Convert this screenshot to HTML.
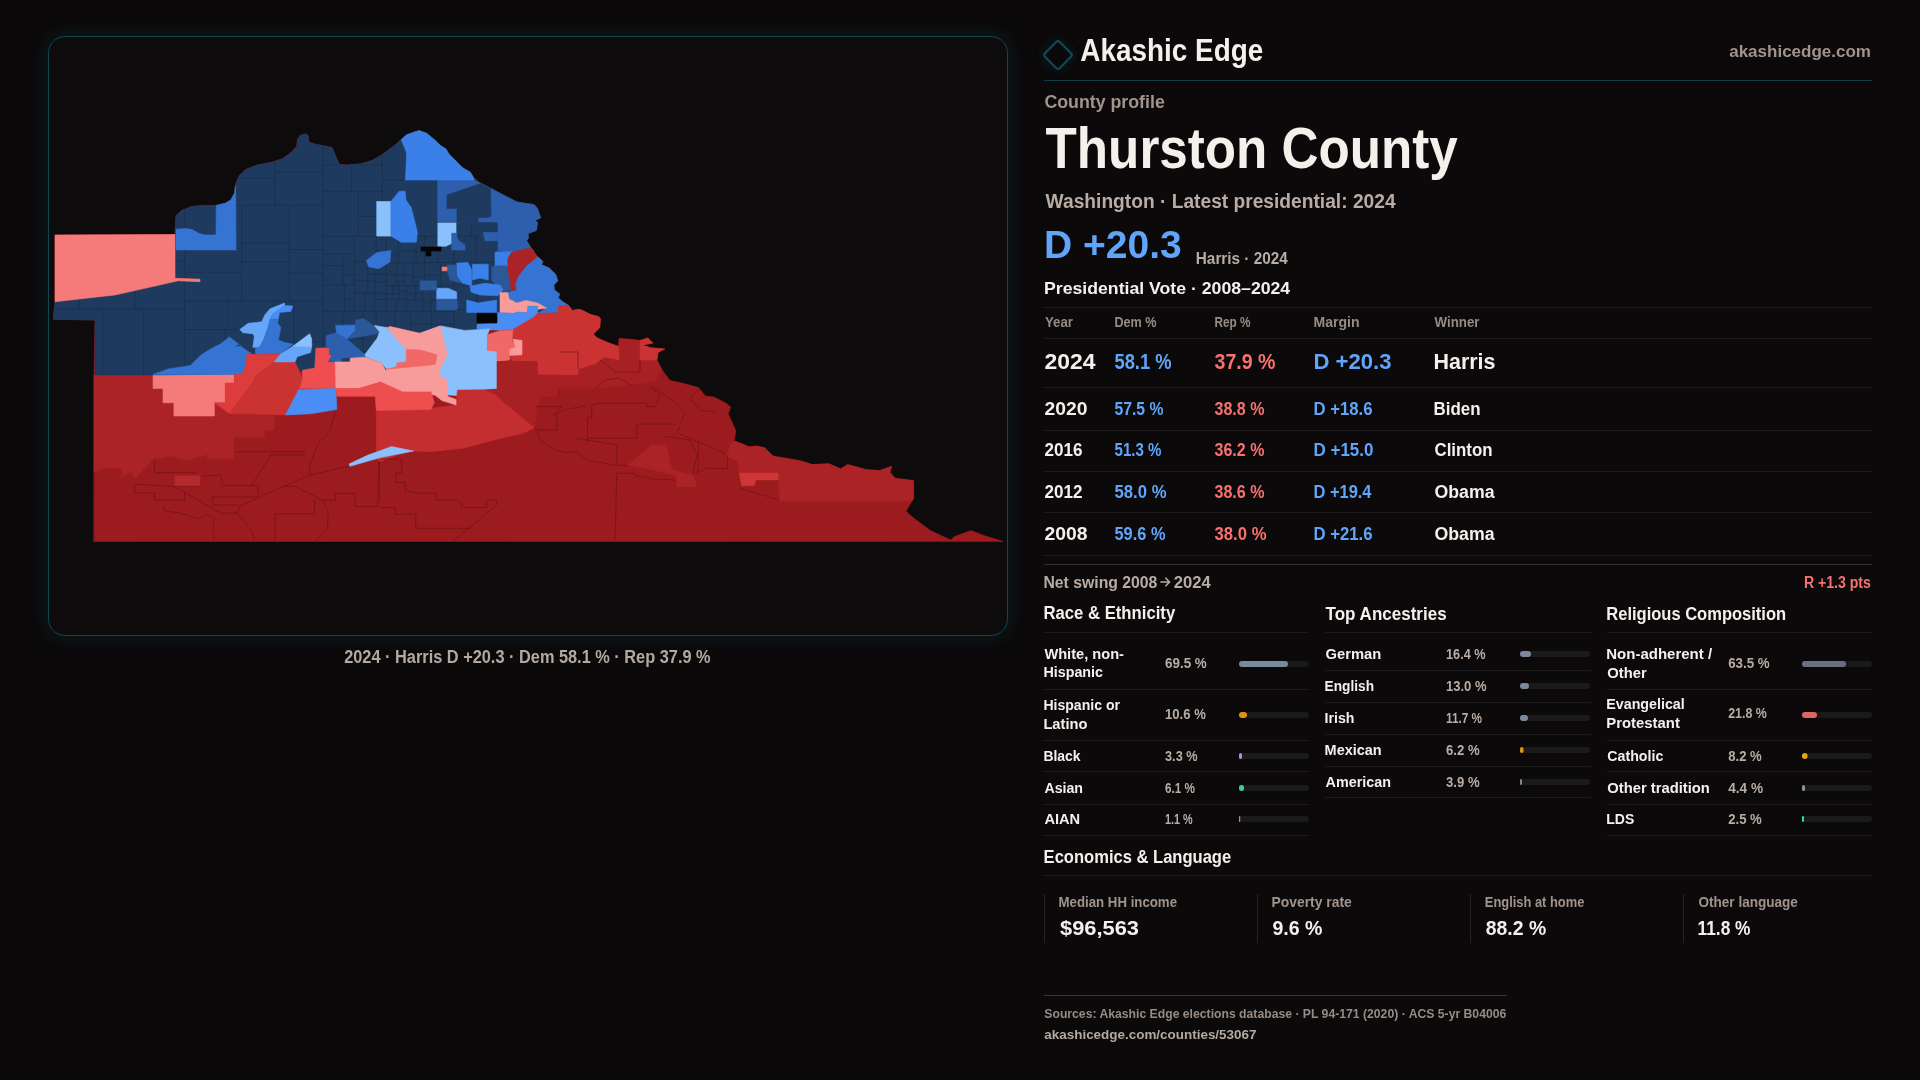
<!DOCTYPE html>
<html><head><meta charset="utf-8"><title>Thurston County — Akashic Edge</title>
<style>
html,body{margin:0;padding:0;background:#0b090a;}
body{width:1920px;height:1080px;overflow:hidden;position:relative;font-family:"Liberation Sans",sans-serif;}
.card{position:absolute;left:48px;top:36px;width:958px;height:598px;border:1px solid #0f4853;border-radius:17px;background:#0d0b0c;box-shadow:0 0 20px 1px rgba(16,80,92,0.28);}
svg{position:absolute;left:0;top:0;will-change:transform;}
</style></head><body>
<div class="card"></div>
<svg width="1920" height="1080" viewBox="0 0 1920 1080" font-family="'Liberation Sans', sans-serif">

<g stroke-linejoin="round">
<polygon fill="#9b1b1e" stroke="#9b1b1e" stroke-width="0.6" points="55.0,235.0 175.0,234.5 176.0,215.8 180.8,211.0 190.6,206.8 201.7,205.4 215.6,205.4 225.3,203.3 230.8,199.9 234.3,193.6 235.7,183.9 239.2,175.6 246.1,169.3 257.2,165.1 271.1,162.4 282.2,158.9 291.9,151.9 296.8,146.4 297.5,139.4 300.3,135.3 305.8,133.9 308.6,136.0 308.3,139.0 309.3,142.2 315.6,144.3 326.7,146.4 332.2,147.8 335.7,156.1 339.2,164.4 347.5,165.1 361.4,163.8 372.5,160.3 382.2,154.7 393.3,146.4 401.1,139.7 406.4,134.9 413.8,132.2 419.2,130.6 426.6,133.3 435.1,140.2 440.5,145.6 445.8,148.8 449.0,154.1 456.4,161.5 462.8,167.9 470.3,172.2 473.5,177.5 480.9,183.4 490.5,188.2 506.5,196.7 517.1,202.0 534.2,204.7 537.4,208.4 540.6,218.0 535.2,220.1 537.6,222.6 536.3,230.4 527.9,233.6 528.5,238.1 526.6,240.7 530.5,247.2 533.7,251.1 532.4,253.7 538.9,257.6 542.8,261.5 541.5,264.7 549.2,268.0 555.7,274.4 557.7,280.9 553.8,284.8 554.4,290.0 559.6,293.9 558.3,297.8 562.2,301.6 568.7,305.5 572.6,310.7 576.5,309.4 580.4,309.4 590.7,314.6 598.5,316.6 600.4,318.5 599.8,327.6 593.3,334.0 597.2,337.9 608.9,343.1 618.6,346.4 619.2,338.6 628.3,339.2 640.0,340.5 647.7,337.9 652.9,343.1 642.6,345.1 650.3,347.7 664.6,349.0 658.1,352.2 656.8,360.0 662.0,369.8 670.0,380.5 680.0,382.5 698.6,387.6 705.4,396.1 713.9,396.9 725.7,402.9 730.8,407.1 728.2,413.9 732.5,423.2 735.9,430.8 734.2,440.9 740.9,443.5 749.4,446.9 756.2,446.0 764.6,447.7 773.1,456.2 788.3,458.7 801.9,461.2 812.0,464.6 829.0,463.8 840.8,468.9 847.6,464.6 857.7,467.2 866.2,469.7 879.7,470.6 891.6,466.3 889.9,472.2 895.0,478.2 913.6,480.7 913.6,498.5 906.0,511.2 913.6,518.0 930.5,530.6 950.8,540.0 954.2,536.6 971.1,530.6 984.7,535.7 1003.3,541.6 93.7,541.5 94.0,375.0 95.0,320.0 53.3,319.2 55.0,301.7"/>
<polygon fill="#ab2327" stroke="#ab2327" stroke-width="0.6" points="94.0,375.0 153.0,375.0 153.0,388.6 163.0,388.6 163.0,402.8 173.9,402.8 173.9,416.0 214.4,416.0 214.4,402.8 229.7,413.8 247.0,413.8 283.9,414.5 274.2,412.9 274.2,429.9 264.5,430.7 264.5,437.2 233.8,437.2 233.8,458.2 206.7,458.3 210.0,452.5 206.7,455.0 186.7,460.0 170.0,455.8 153.3,459.2 135.0,478.3 131.7,471.7 120.0,478.3 123.3,473.3 120.0,467.5 103.3,468.3 94.2,472.5"/>
<polygon fill="#ab2327" stroke="#ab2327" stroke-width="0.6" points="734.2,440.9 740.9,443.5 749.4,446.9 756.2,446.0 764.6,447.7 773.1,456.2 788.3,458.7 801.9,461.2 812.0,464.6 829.0,463.8 840.8,468.9 847.6,464.6 857.7,467.2 866.2,469.7 879.7,470.6 891.6,466.3 889.9,472.2 895.0,478.2 913.6,480.7 913.6,498.5 911.9,501.0 779.9,501.0 778.2,473.1 739.2,473.1 737.5,461.2 727.4,456.2 730.0,445.0"/>
<polygon fill="#cf3636" stroke="#cf3636" stroke-width="0.6" points="739.2,473.1 778.2,473.1 778.2,479.9 756.2,479.9 754.0,485.8 741.8,485.8"/>
<polygon fill="#ab2327" stroke="#ab2327" stroke-width="0.6" points="680.0,474.8 691.8,474.8 696.0,486.6 680.0,486.6"/>
<polygon fill="#ab2327" stroke="#ab2327" stroke-width="0.6" points="651.7,445.0 666.7,445.0 671.7,470.0 693.3,475.0 696.7,486.7 676.7,486.7 676.7,475.8 653.3,470.0 628.3,465.0"/>
<polygon fill="#b42a2d" stroke="#b42a2d" stroke-width="0.6" points="174.8,475.9 199.9,475.9 199.9,486.4 174.8,486.4"/>
<polygon fill="#a62024" stroke="#a62024" stroke-width="0.6" points="537.0,361.5 577.8,374.8 578.5,368.9 604.0,357.0 618.6,346.4 619.2,338.6 628.3,339.2 640.0,340.5 640.0,360.0 656.8,360.0 662.0,369.8 655.0,381.0 640.0,384.0 620.0,386.0 596.0,388.4 558.4,388.4 558.4,375.2 537.8,375.0"/>
<polygon fill="#cb3333" stroke="#cb3333" stroke-width="0.6" points="640.0,340.5 647.7,337.9 652.9,343.1 642.6,345.1 650.3,347.7 664.6,349.0 658.1,352.2 656.8,360.0 640.0,360.0"/>
<polygon fill="#c42e31" stroke="#c42e31" stroke-width="0.6" points="376.3,409.8 405.8,410.0 405.8,403.3 426.7,403.3 426.7,410.0 436.7,407.5 456.7,405.0 456.7,389.2 486.7,390.0 496.7,395.0 503.3,401.7 511.7,408.3 521.7,416.7 535.0,427.5 523.3,433.3 496.7,439.2 463.3,448.3 430.0,451.7 413.5,451.0 396.7,455.0 380.0,461.7 376.3,458.0"/>
<polygon fill="#1e3a5e" stroke="#1e3a5e" stroke-width="0.6" points="55.0,301.7 115.0,295.0 178.3,280.8 200.0,281.7 200.0,279.2 175.0,278.3 175.0,234.5 176.0,215.8 180.8,211.0 190.6,206.8 201.7,205.4 215.6,205.4 225.3,203.3 230.8,199.9 234.3,193.6 235.7,183.9 239.2,175.6 246.1,169.3 257.2,165.1 271.1,162.4 282.2,158.9 291.9,151.9 296.8,146.4 297.5,139.4 300.3,135.3 305.8,133.9 308.6,136.0 308.3,139.0 309.3,142.2 315.6,144.3 326.7,146.4 332.2,147.8 335.7,156.1 339.2,164.4 347.5,165.1 361.4,163.8 372.5,160.3 382.2,154.7 393.3,146.4 401.1,139.7 406.4,134.9 413.8,132.2 419.2,130.6 426.6,133.3 435.1,140.2 440.5,145.6 445.8,148.8 449.0,154.1 456.4,161.5 462.8,167.9 470.3,172.2 473.5,177.5 480.9,183.4 490.5,188.2 506.5,196.7 517.1,202.0 534.2,204.7 537.4,208.4 540.6,218.0 535.2,220.1 537.6,222.6 536.3,230.4 527.9,233.6 528.5,238.1 526.6,240.7 530.5,247.2 533.7,251.1 532.4,253.7 538.9,257.6 542.8,261.5 541.5,264.7 549.2,268.0 555.7,274.4 557.7,280.9 553.8,284.8 554.4,290.0 559.6,293.9 558.3,297.8 562.2,301.6 568.7,305.5 558.0,306.7 538.0,312.0 497.0,313.0 477.0,313.0 477.0,329.0 464.0,330.0 440.7,325.9 420.0,340.0 386.7,340.0 386.7,372.0 245.0,372.0 245.0,374.4 153.0,375.0 95.0,375.0 95.0,320.0 53.3,319.2"/>
<path d="M323.3,146.6 L323.3,164.9 M323.3,164.9 L323.3,172.2 M323.3,172.2 L323.3,191.4 M323.3,191.4 L323.3,205.4 M323.3,205.4 L323.3,236.4 M323.3,236.4 L323.3,249.5 M323.3,249.5 L323.3,253.9 M323.3,253.9 L323.3,265.6 M323.3,265.6 L323.3,273.0 M323.3,273.0 L323.3,284.9 M323.3,284.9 L323.3,301.2 M323.3,301.2 L323.3,311.3 M323.3,311.3 L323.3,338.5 M323.3,338.5 L323.3,341.9 M323.3,341.9 L323.3,371.2 M184.6,210.2 L184.6,261.3 M184.6,261.3 L184.6,272.3 M184.6,272.3 L184.6,277.8 M184.6,281.9 L184.6,301.2 M184.6,301.2 L184.6,309.2 M184.6,309.2 L184.6,329.5 M184.6,329.5 L184.6,374.0 M175.8,261.3 L184.6,261.3 M55.1,309.2 L79.2,309.2 M79.2,309.2 L102.5,309.2 M102.5,309.2 L135.2,309.2 M135.2,309.2 L143.4,309.2 M143.4,309.2 L184.6,309.2 M135.2,291.3 L135.2,309.2 M79.2,299.8 L79.2,309.2 M143.4,309.2 L143.4,374.2 M102.5,309.2 L102.5,374.2 M219.4,205.4 L229.5,205.4 M229.5,205.4 L241.7,205.4 M241.7,205.4 L275.1,205.4 M275.1,205.4 L289.3,205.4 M289.3,205.4 L323.3,205.4 M229.5,201.6 L229.5,205.4 M275.1,162.0 L275.1,172.2 M275.1,172.2 L275.1,178.2 M275.1,178.2 L275.1,205.4 M239.0,178.2 L275.1,178.2 M275.1,172.2 L323.3,172.2 M184.6,301.2 L227.9,301.2 M227.9,301.2 L241.7,301.2 M241.7,301.2 L273.2,301.2 M273.2,301.2 L289.3,301.2 M289.3,301.2 L293.7,301.2 M293.7,301.2 L323.3,301.2 M241.7,205.4 L241.7,242.9 M241.7,242.9 L241.7,262.1 M241.7,262.1 L241.7,272.3 M241.7,272.3 L241.7,301.2 M184.6,272.3 L241.7,272.3 M289.3,205.4 L289.3,242.9 M289.3,242.9 L289.3,249.5 M289.3,249.5 L289.3,262.1 M289.3,262.1 L289.3,273.0 M289.3,273.0 L289.3,301.2 M241.7,242.9 L289.3,242.9 M241.7,262.1 L289.3,262.1 M289.3,249.5 L323.3,249.5 M289.3,273.0 L323.3,273.0 M273.2,301.2 L273.2,329.5 M273.2,329.5 L273.2,341.9 M273.2,341.9 L273.2,371.2 M184.6,329.5 L225.3,329.5 M225.3,329.5 L227.9,329.5 M227.9,329.5 L273.2,329.5 M227.9,301.2 L227.9,329.5 M225.3,329.5 L225.3,373.7 M273.2,341.9 L293.7,341.9 M293.7,341.9 L323.3,341.9 M293.7,301.2 L293.7,341.9 M323.3,236.4 L354.4,236.4 M354.4,236.4 L358.3,236.4 M358.3,236.4 L376.2,236.4 M376.2,236.4 L382.3,236.4 M382.3,236.4 L386.3,236.4 M386.3,236.4 L398.3,236.4 M398.3,236.4 L413.1,236.4 M413.1,236.4 L416.2,236.4 M416.2,236.4 L424.5,236.4 M424.5,236.4 L437.6,236.4 M437.9,236.4 L454.1,236.4 M454.1,236.4 L471.3,236.4 M471.3,236.4 L476.0,236.4 M476.0,236.4 L495.3,236.4 M495.3,236.4 L513.4,236.4 M513.4,236.4 L524.8,236.4 M524.8,236.4 L527.5,236.4 M471.3,175.5 L471.3,180.2 M471.3,180.2 L471.3,194.1 M471.3,194.1 L471.3,219.3 M471.3,219.3 L471.3,236.4 M382.3,155.6 L382.3,164.9 M382.3,164.9 L382.3,180.2 M382.3,180.2 L382.3,191.4 M382.3,191.4 L382.3,216.5 M382.3,217.0 L382.3,236.4 M323.3,164.9 L338.6,164.9 M358.0,164.9 L382.3,164.9 M323.3,191.4 L351.6,191.4 M351.6,191.4 L358.3,191.4 M358.3,191.4 L382.3,191.4 M351.6,165.5 L351.6,191.4 M358.3,191.4 L358.3,216.5 M358.3,216.5 L358.3,236.4 M358.3,216.5 L382.3,216.5 M382.3,180.2 L407.6,180.2 M407.6,180.2 L418.6,180.2 M418.6,180.2 L437.6,180.2 M437.6,180.2 L471.3,180.2 M418.6,131.6 L418.6,180.2 M437.6,180.2 L437.6,217.0 M437.6,217.0 L437.6,219.3 M437.6,219.3 L437.6,236.4 M382.3,217.0 L407.6,217.0 M407.6,217.0 L413.1,217.0 M413.1,217.0 L437.6,217.0 M407.6,180.2 L407.6,217.0 M413.1,217.0 L413.1,236.4 M437.6,219.3 L471.3,219.3 M513.4,201.0 L513.4,236.4 M471.3,194.1 L499.9,194.1 M454.1,236.4 L454.1,262.4 M454.1,262.4 L454.1,285.0 M454.1,285.0 L454.1,285.6 M454.1,285.6 L454.1,300.2 M454.1,300.2 L454.1,309.6 M454.1,309.6 L454.1,311.3 M454.1,311.3 L454.1,324.1 M454.1,324.1 L454.1,327.5 M323.3,311.3 L343.0,311.3 M343.0,311.3 L344.5,311.3 M344.5,311.3 L354.4,311.3 M354.4,311.3 L362.8,311.3 M362.8,311.3 L364.7,311.3 M364.7,311.3 L374.4,311.3 M374.4,311.3 L376.1,311.3 M376.1,311.3 L386.3,311.3 M386.3,311.3 L395.2,311.3 M395.2,311.3 L396.3,311.3 M396.3,311.3 L406.4,311.3 M406.4,311.3 L410.4,311.3 M410.4,311.3 L422.5,311.3 M422.5,311.3 L430.5,311.3 M430.5,311.3 L431.4,311.3 M431.4,311.3 L454.1,311.3 M386.3,236.4 L386.3,251.3 M386.3,251.3 L386.3,253.9 M386.3,253.9 L386.3,262.0 M386.3,262.0 L386.3,262.7 M386.3,262.7 L386.3,274.2 M386.3,274.6 L386.3,281.9 M386.3,281.9 L386.3,285.6 M386.3,285.6 L386.3,293.1 M386.3,293.1 L386.3,293.8 M386.3,293.8 L386.3,299.3 M386.3,299.5 L386.3,311.3 M354.4,236.4 L354.4,253.9 M354.4,253.9 L354.4,262.0 M354.4,262.0 L354.4,274.9 M354.4,274.9 L354.4,280.3 M354.4,280.3 L354.4,284.9 M354.4,284.9 L354.4,293.1 M354.4,293.1 L354.4,299.2 M354.4,299.2 L354.4,311.3 M323.3,284.9 L342.8,284.9 M342.8,284.9 L344.5,284.9 M344.5,284.9 L354.4,284.9 M323.3,253.9 L342.8,253.9 M342.8,253.9 L354.4,253.9 M342.8,253.9 L342.8,265.6 M342.8,265.6 L342.8,274.9 M342.8,274.9 L342.8,284.9 M323.3,265.6 L342.8,265.6 M342.8,274.9 L354.4,274.9 M344.5,284.9 L344.5,299.2 M344.5,299.2 L344.5,311.3 M344.5,299.2 L354.4,299.2 M354.4,262.0 L367.7,262.0 M367.7,262.0 L376.2,262.0 M376.2,262.0 L379.6,262.0 M379.6,262.0 L386.3,262.0 M376.2,236.4 L376.2,251.3 M376.2,251.3 L376.2,262.0 M376.2,251.3 L386.3,251.3 M354.4,293.1 L364.7,293.1 M364.7,293.1 L367.7,293.1 M367.7,293.1 L374.4,293.1 M374.4,293.1 L375.4,293.1 M375.4,293.1 L386.3,293.1 M367.7,262.0 L367.7,274.2 M367.7,274.2 L367.7,280.3 M367.7,280.3 L367.7,281.4 M367.7,281.4 L367.7,293.1 M354.4,280.3 L367.7,280.3 M367.7,274.2 L375.4,274.2 M375.4,274.2 L379.6,274.2 M379.6,274.2 L386.3,274.2 M379.6,262.0 L379.6,274.2 M375.4,274.2 L375.4,281.4 M375.4,281.9 L375.4,293.1 M367.7,281.4 L375.4,281.4 M375.4,281.9 L386.3,281.9 M364.7,293.1 L364.7,311.3 M374.4,293.1 L374.4,299.5 M374.4,299.5 L374.4,311.3 M374.4,299.5 L386.3,299.5 M386.3,285.6 L393.2,285.6 M393.2,285.6 L396.5,285.6 M396.5,285.6 L399.1,285.6 M399.1,285.6 L404.1,285.6 M404.1,285.6 L406.4,285.6 M406.4,285.6 L413.0,285.6 M413.0,285.6 L415.6,285.6 M415.6,285.6 L422.5,285.6 M422.5,285.6 L424.5,285.6 M424.5,285.6 L430.5,285.6 M430.5,285.6 L440.6,285.6 M440.6,285.6 L441.7,285.6 M441.7,285.6 L454.1,285.6 M424.5,236.4 L424.5,252.0 M424.5,252.0 L424.5,262.4 M424.5,262.7 L424.5,275.3 M424.5,275.3 L424.5,276.8 M424.5,276.8 L424.5,285.6 M386.3,262.7 L396.5,262.7 M396.5,262.7 L398.3,262.7 M398.3,262.7 L403.9,262.7 M403.9,262.7 L413.0,262.7 M413.0,262.7 L416.2,262.7 M416.2,262.7 L424.5,262.7 M398.3,236.4 L398.3,251.0 M398.3,251.0 L398.3,253.9 M398.3,253.9 L398.3,262.7 M386.3,253.9 L398.3,253.9 M416.2,236.4 L416.2,251.0 M416.2,251.0 L416.2,252.0 M416.2,252.0 L416.2,262.7 M398.3,251.0 L416.2,251.0 M416.2,252.0 L424.5,252.0 M413.0,262.7 L413.0,274.6 M413.0,274.6 L413.0,276.8 M413.0,276.8 L413.0,285.6 M386.3,274.6 L396.5,274.6 M396.5,274.6 L403.9,274.6 M404.1,274.6 L413.0,274.6 M403.9,262.7 L403.9,274.6 M396.5,262.7 L396.5,274.6 M404.1,274.6 L404.1,281.7 M404.1,281.7 L404.1,285.6 M396.5,274.6 L396.5,281.7 M396.5,281.7 L396.5,285.6 M396.5,281.7 L404.1,281.7 M413.0,276.8 L424.5,276.8 M424.5,262.4 L437.9,262.4 M437.9,262.4 L440.6,262.4 M440.6,262.4 L454.1,262.4 M437.9,236.4 L437.9,262.4 M440.6,262.4 L440.6,275.3 M440.6,275.3 L440.6,285.6 M424.5,275.3 L440.6,275.3 M430.5,285.6 L430.5,300.2 M430.5,300.2 L430.5,302.5 M430.5,302.5 L430.5,311.3 M406.4,285.6 L406.4,291.0 M406.4,291.0 L406.4,293.4 M406.4,293.4 L406.4,299.3 M406.4,299.3 L406.4,300.0 M406.4,300.0 L406.4,311.3 M386.3,299.3 L396.3,299.3 M396.3,299.3 L399.1,299.3 M399.1,299.3 L406.4,299.3 M399.1,285.6 L399.1,291.0 M399.1,291.0 L399.1,293.8 M399.1,293.8 L399.1,299.3 M386.3,293.8 L393.2,293.8 M393.2,293.8 L399.1,293.8 M393.2,285.6 L393.2,293.8 M399.1,291.0 L406.4,291.0 M396.3,299.3 L396.3,311.3 M422.5,285.6 L422.5,293.4 M422.5,293.4 L422.5,300.0 M422.5,300.0 L422.5,302.5 M422.5,302.5 L422.5,311.3 M406.4,293.4 L415.5,293.4 M415.6,293.4 L422.5,293.4 M415.6,285.6 L415.6,293.4 M406.4,300.0 L415.5,300.0 M415.5,300.0 L422.5,300.0 M415.5,293.4 L415.5,300.0 M422.5,302.5 L430.5,302.5 M430.5,300.2 L441.7,300.2 M441.7,300.2 L454.1,300.2 M441.7,285.6 L441.7,300.2 M410.4,311.3 L410.4,324.0 M410.4,324.0 L410.4,330.3 M410.4,330.3 L410.4,339.2 M362.8,311.3 L362.8,326.3 M362.8,326.3 L362.8,338.5 M362.8,338.5 L362.8,352.0 M362.8,352.0 L362.8,371.2 M323.3,338.5 L343.0,338.5 M343.0,338.5 L362.8,338.5 M343.0,311.3 L343.0,338.5 M362.8,352.0 L385.9,352.0 M395.2,311.3 L395.2,326.3 M395.2,326.3 L395.2,330.3 M395.2,330.3 L395.2,339.2 M362.8,326.3 L376.1,326.3 M376.1,326.3 L395.2,326.3 M376.1,311.3 L376.1,326.3 M395.2,330.3 L410.4,330.3 M431.4,311.3 L431.4,324.0 M431.4,324.1 L431.4,331.2 M410.4,324.0 L431.4,324.0 M431.4,324.1 L454.1,324.1 M454.1,309.6 L476.7,309.6 M476.7,309.6 L478.7,309.6 M478.7,309.6 L503.7,309.6 M503.7,309.6 L510.1,309.6 M510.1,309.6 L524.8,309.6 M524.8,309.6 L543.8,309.6 M524.8,236.4 L524.8,262.4 M524.8,262.4 L524.8,263.6 M524.8,263.6 L524.8,280.3 M524.8,280.3 L524.8,309.6 M454.1,262.4 L476.0,262.4 M476.0,262.4 L476.7,262.4 M476.7,262.4 L495.3,262.4 M495.3,262.4 L503.7,262.4 M503.7,262.4 L524.8,262.4 M476.0,236.4 L476.0,262.4 M495.3,236.4 L495.3,262.4 M476.7,262.4 L476.7,285.0 M476.7,285.0 L476.7,294.7 M476.7,294.7 L476.7,309.6 M454.1,285.0 L476.7,285.0 M503.7,262.4 L503.7,280.3 M503.7,280.3 L503.7,294.7 M503.7,294.7 L503.7,309.6 M476.7,294.7 L503.7,294.7 M503.7,280.3 L524.8,280.3 M524.8,263.6 L541.1,263.6 M510.1,309.6 L510.1,311.9 M478.7,309.6 L478.7,312.2" fill="none" stroke="#162c48" stroke-width="0.7" opacity="0.9"/>
<polygon fill="#f47b7a" stroke="#f47b7a" stroke-width="0.6" points="55.0,235.0 175.0,234.5 175.0,278.3 200.0,279.2 200.0,281.7 178.3,280.8 115.0,295.0 55.0,301.7"/>
<polygon fill="#3674d4" stroke="#3674d4" stroke-width="0.6" points="216.2,205.4 225.3,203.3 230.8,199.9 234.3,193.6 235.7,186.0 236.0,250.0 176.0,250.0 176.0,229.2 186.0,228.6 192.0,229.6 199.0,233.5 205.0,235.0 216.0,235.0"/>
<polygon fill="#3b80e8" stroke="#3b80e8" stroke-width="0.6" points="401.1,139.7 406.4,134.9 413.8,132.2 419.2,130.6 426.6,133.3 435.1,140.2 440.5,145.6 445.8,148.8 449.0,154.1 456.4,161.5 462.8,167.9 470.3,172.2 473.5,177.5 474.5,180.7 405.3,180.7 406.4,160.0 406.4,152.0"/>
<polygon fill="#2d5fae" stroke="#2d5fae" stroke-width="0.6" points="437.0,180.7 474.5,180.7 480.9,183.4 490.5,188.2 506.5,196.7 517.1,202.0 534.2,204.7 537.4,208.4 540.6,218.0 535.2,220.1 537.6,222.6 536.3,230.4 527.9,233.6 528.5,238.1 526.6,240.7 530.5,247.2 533.7,251.1 515.2,252.4 496.9,250.4 496.9,222.0 437.0,222.0"/>
<polygon fill="#1e3a5e" stroke="#1e3a5e" stroke-width="0.6" points="447.0,195.0 481.0,183.4 490.5,188.2 491.0,216.0 488.0,217.6 478.0,217.6 478.0,222.6 457.0,222.0 457.0,208.6 447.0,208.6"/>
<polygon fill="#1e3a5e" stroke="#1e3a5e" stroke-width="0.6" points="405.3,180.7 437.0,180.7 437.0,222.0 413.8,222.0 412.8,209.5 406.4,203.0"/>
<polygon fill="#1e3a5e" stroke="#1e3a5e" stroke-width="0.6" points="478.3,223.3 497.5,223.3 497.5,250.0 478.3,250.0"/>
<polygon fill="#2d5fae" stroke="#2d5fae" stroke-width="0.6" points="483.3,232.5 497.5,232.5 497.5,240.8 485.0,240.8"/>
<polygon fill="#8ac0fb" stroke="#8ac0fb" stroke-width="0.6" points="376.7,201.5 390.9,201.5 390.9,236.1 376.7,236.1"/>
<polygon fill="#3b80e8" stroke="#3b80e8" stroke-width="0.6" points="390.9,201.5 399.1,191.3 405.2,191.3 406.0,200.0 411.3,207.6 417.4,232.0 416.4,242.2 401.1,242.2 390.9,236.1"/>
<polygon fill="#8ac0fb" stroke="#8ac0fb" stroke-width="0.6" points="437.8,222.9 456.1,222.9 456.0,238.0 454.1,242.2 445.9,246.3 437.8,246.3"/>
<polygon fill="#3674d4" stroke="#3674d4" stroke-width="0.6" points="366.5,260.6 376.7,252.4 390.9,250.4 390.0,262.0 378.7,268.7 368.5,266.7"/>
<polygon fill="#050505" stroke="#050505" stroke-width="0.6" points="421.0,247.0 441.0,247.0 441.0,251.0 431.0,251.0 431.0,256.0 426.0,256.0 426.0,251.0 421.0,251.0"/>
<polygon fill="#2d5fae" stroke="#2d5fae" stroke-width="0.6" points="451.7,233.3 456.0,233.3 458.0,240.0 465.0,245.0 465.0,250.0 451.7,250.0"/>
<polygon fill="#3b80e8" stroke="#3b80e8" stroke-width="0.6" points="495.0,252.0 505.0,251.7 511.7,251.7 508.0,258.0 510.0,268.3 495.0,268.3"/>
<polygon fill="#2a5898" stroke="#2a5898" stroke-width="0.6" points="491.7,267.0 497.0,265.8 507.0,266.0 511.7,275.0 510.4,279.6 511.0,290.6 505.0,291.7 498.0,288.0 491.7,280.0"/>
<polygon fill="#3b80e8" stroke="#3b80e8" stroke-width="0.6" points="470.0,286.0 485.0,283.3 500.0,285.0 503.3,290.0 498.0,295.8 480.0,295.0 471.0,292.0"/>
<polygon fill="#3b80e8" stroke="#3b80e8" stroke-width="0.6" points="456.7,263.0 468.0,262.5 471.7,270.0 471.7,285.8 462.0,283.0 456.7,276.0"/>
<polygon fill="#3b80e8" stroke="#3b80e8" stroke-width="0.6" points="472.5,264.2 488.3,264.2 488.3,280.0 480.0,278.0 472.5,280.0"/>
<polygon fill="#2a5898" stroke="#2a5898" stroke-width="0.6" points="447.5,265.0 456.0,265.0 456.7,276.0 462.0,283.0 450.0,280.0 447.5,272.0"/>
<polygon fill="#66a6f8" stroke="#66a6f8" stroke-width="0.6" points="436.7,288.3 448.0,288.3 456.7,292.0 456.7,299.2 436.7,299.2"/>
<polygon fill="#2a5898" stroke="#2a5898" stroke-width="0.6" points="436.7,299.2 456.7,299.2 458.0,306.0 456.7,310.0 436.7,310.0"/>
<polygon fill="#3b80e8" stroke="#3b80e8" stroke-width="0.6" points="466.7,300.0 478.0,303.0 496.7,300.0 496.7,312.5 466.7,312.5"/>
<polygon fill="#2a5898" stroke="#2a5898" stroke-width="0.6" points="420.0,280.8 436.7,280.8 436.7,290.0 420.0,290.0"/>
<polygon fill="#f47b7a" stroke="#f47b7a" stroke-width="0.6" points="442.0,267.0 447.0,267.0 447.0,270.8 442.0,270.8"/>
<polygon fill="#ab2327" stroke="#ab2327" stroke-width="0.6" points="507.8,258.9 511.7,252.4 529.8,247.9 533.7,251.1 537.6,256.9 525.9,266.7 518.1,277.0 515.6,284.8 516.8,290.0 511.0,290.6 510.4,279.6 507.8,271.8"/>
<polygon fill="#3674d4" stroke="#3674d4" stroke-width="0.6" points="537.6,256.9 538.9,257.6 542.8,261.5 541.5,264.7 549.2,268.0 555.7,274.4 557.7,280.9 553.8,284.8 554.4,290.0 559.6,293.9 558.3,297.8 562.2,301.6 568.7,305.5 558.3,305.5 558.3,312.7 537.6,313.3 546.7,308.1 537.6,303.0 525.9,300.4 516.8,303.0 509.1,299.1 507.8,292.6 516.8,290.0 515.6,284.8 518.1,277.0 525.9,266.7"/>
<polygon fill="#f89b9b" stroke="#f89b9b" stroke-width="0.6" points="500.0,292.6 507.8,292.6 509.1,299.1 516.8,303.0 525.9,300.4 537.6,303.0 546.7,308.1 537.6,309.4 537.6,306.2 527.9,306.2 527.2,312.7 516.8,312.0 514.3,313.3 500.0,312.7"/>
<polygon fill="#4a8ef5" stroke="#4a8ef5" stroke-width="0.6" points="497.0,312.7 514.3,313.3 516.8,312.0 527.2,312.7 527.9,306.2 537.6,306.2 537.6,313.3 533.7,317.2 525.9,323.7 513.0,329.5 500.0,330.2 477.0,328.9 477.0,324.4 497.0,323.0"/>
<polygon fill="#050505" stroke="#050505" stroke-width="0.6" points="477.0,313.3 497.0,313.3 497.0,323.0 477.0,323.0"/>
<polygon fill="#cb3333" stroke="#cb3333" stroke-width="0.6" points="513.0,329.5 533.7,317.2 537.6,313.3 558.3,312.7 558.3,306.2 568.7,305.5 572.6,310.7 576.5,309.4 580.4,309.4 590.7,314.6 598.5,316.6 600.4,318.5 599.8,327.6 593.3,334.0 597.2,337.9 608.9,343.1 618.6,346.4 619.2,360.0 604.0,357.0 595.0,364.0 587.4,365.9 578.5,368.9 577.8,374.8 537.8,374.8 537.0,361.5 511.9,360.7 509.6,352.6 514.0,341.0"/>
<polygon fill="#8ac0fb" stroke="#8ac0fb" stroke-width="0.6" points="420.0,333.3 440.7,325.9 464.4,330.4 489.6,328.9 487.4,334.8 487.4,350.4 497.0,351.1 497.0,388.9 457.0,389.6 456.3,395.6 446.7,394.8 446.7,380.0 442.2,377.8 437.0,375.6 437.0,354.8 447.4,354.1 434.8,340.7"/>
<polygon fill="#f06868" stroke="#f06868" stroke-width="0.6" points="487.4,334.8 500.0,330.8 513.0,330.2 512.3,340.5 515.6,347.0 509.7,349.6 509.7,360.0 497.0,361.5 497.0,351.1 487.4,350.4"/>
<polygon fill="#f89b9b" stroke="#f89b9b" stroke-width="0.6" points="513.0,339.2 522.0,340.5 522.0,354.8 509.7,355.4 509.7,349.6 515.6,347.0"/>
<polygon fill="#f47b7a" stroke="#f47b7a" stroke-width="0.6" points="153.0,375.5 234.0,374.4 234.0,383.1 225.3,383.1 225.3,402.8 214.4,402.8 214.4,416.0 173.9,416.0 173.9,402.8 163.0,402.8 163.0,388.6 153.1,388.6"/>
<polygon fill="#3674d4" stroke="#3674d4" stroke-width="0.6" points="153.0,374.4 168.4,368.9 190.3,365.6 201.3,354.7 212.2,348.1 220.0,344.2 229.4,336.9 234.6,341.0 238.8,344.2 233.5,346.8 240.8,346.2 248.1,351.5 251.2,353.0 247.1,353.5 246.0,362.9 242.9,373.3 234.6,374.4"/>
<polygon fill="#66a6f8" stroke="#66a6f8" stroke-width="0.6" points="239.8,329.6 248.1,323.3 261.7,321.8 264.8,315.0 270.0,308.8 278.3,305.6 284.6,303.0 284.6,305.6 272.1,314.5 270.0,319.2 267.9,327.5 263.8,339.0 259.6,347.3 252.8,347.3 254.4,335.8 252.3,333.8 242.9,332.7"/>
<polygon fill="#4a8ef5" stroke="#4a8ef5" stroke-width="0.6" points="284.6,305.6 292.9,306.1 290.8,311.4 279.4,312.4 278.3,319.2 270.0,319.2 272.1,314.5"/>
<polygon fill="#3674d4" stroke="#3674d4" stroke-width="0.6" points="270.0,319.2 278.3,319.2 277.8,323.3 280.9,327.5 278.3,340.0 283.5,342.1 292.9,344.2 280.4,353.5 255.4,354.6 255.4,348.3 259.6,347.3 263.8,339.0 267.9,327.5"/>
<polygon fill="#dc3c3c" stroke="#dc3c3c" stroke-width="0.6" points="247.1,353.5 254.9,354.6 280.4,354.1 274.2,361.9 255.4,376.5 253.8,381.0 229.7,413.8 214.4,402.8 225.3,402.8 225.3,383.1 234.0,383.1 234.6,374.4 242.9,373.3 246.0,362.9"/>
<polygon fill="#cb3333" stroke="#cb3333" stroke-width="0.6" points="274.2,361.9 295.0,361.9 300.2,373.3 302.3,380.0 299.7,388.6 298.6,389.7 285.5,414.9 247.0,413.8 229.7,413.8 253.8,381.0 255.4,376.5"/>
<polygon fill="#66a6f8" stroke="#66a6f8" stroke-width="0.6" points="280.4,354.1 292.9,346.2 311.7,346.8 310.6,352.5 297.1,356.7 295.0,361.9 274.2,361.9"/>
<polygon fill="#8ac0fb" stroke="#8ac0fb" stroke-width="0.6" points="292.9,346.2 309.6,333.8 311.7,339.0 311.7,346.8"/>
<polygon fill="#ee4e4e" stroke="#ee4e4e" stroke-width="0.6" points="302.3,380.0 302.3,370.2 314.8,368.1 315.8,348.3 329.4,347.8 329.4,354.6 332.5,355.6 328.3,360.8 335.1,361.9 335.1,380.0 335.8,388.6 299.7,388.6"/>
<polygon fill="#4a8ef5" stroke="#4a8ef5" stroke-width="0.6" points="298.6,389.7 335.8,388.6 336.9,409.4 310.6,413.8 285.5,414.9"/>
<polygon fill="#2d5fae" stroke="#2d5fae" stroke-width="0.6" points="326.2,335.8 336.7,332.7 347.1,339.0 364.8,354.6 365.3,361.9 350.2,361.9 350.2,357.7 341.4,358.2 341.4,361.9 328.3,361.9 332.5,355.6 329.4,354.6 329.4,347.8 326.2,347.8"/>
<polygon fill="#3674d4" stroke="#3674d4" stroke-width="0.6" points="335.6,325.4 355.4,324.9 355.4,330.6 347.1,339.0 336.7,332.7"/>
<polygon fill="#2a5898" stroke="#2a5898" stroke-width="0.6" points="355.4,320.2 362.7,318.6 367.9,321.2 374.2,326.5 379.4,331.7 376.2,333.8 365.8,335.8 347.1,339.0 355.4,330.6"/>
<polygon fill="#f89b9b" stroke="#f89b9b" stroke-width="0.6" points="389.4,326.3 420.0,333.3 440.0,326.0 447.4,354.1 437.0,375.6 441.9,377.7 447.4,379.9 447.4,396.3 402.5,391.9 380.6,382.0 386.7,372.0"/>
<polygon fill="#a62024" stroke="#a62024" stroke-width="0.6" points="497.0,361.5 537.0,361.5 537.8,375.0 558.4,375.2 558.4,396.7 541.7,396.7 536.7,406.7 536.7,418.3 535.0,427.5 521.7,416.7 503.3,401.7 496.7,395.0 486.7,390.0 497.0,389.0"/>
<polygon fill="#8ac0fb" stroke="#8ac0fb" stroke-width="0.6" points="365.8,356.7 364.8,354.6 377.3,338.0 379.4,331.7 374.2,325.4 386.7,327.5 396.0,337.9 404.4,348.3 406.0,361.9 397.1,362.9 396.0,367.1 386.7,369.2 381.5,362.9"/>
<polygon fill="#f89b9b" stroke="#f89b9b" stroke-width="0.6" points="335.1,361.9 350.2,361.9 350.2,358.2 365.3,357.2 381.5,362.9 386.7,372.3 385.0,374.4 380.6,382.0 358.8,388.6 335.8,388.6"/>
<polygon fill="#f89b9b" stroke="#f89b9b" stroke-width="0.6" points="387.2,368.9 435.3,364.5 441.9,377.7 447.4,379.9 447.4,396.3 456.1,399.5 456.1,405.0 441.9,400.6 431.0,391.9 402.5,391.9 380.6,382.0 385.0,374.4"/>
<polygon fill="#f89b9b" stroke="#f89b9b" stroke-width="0.6" points="386.7,327.0 420.0,335.0 434.8,340.7 447.4,354.1 437.0,354.8 420.0,349.9 406.5,349.4 396.0,337.9"/>
<polygon fill="#f06868" stroke="#f06868" stroke-width="0.6" points="406.5,349.4 420.0,349.9 437.0,354.8 435.3,364.5 386.7,369.2 396.0,367.1 397.1,362.9 406.0,361.9"/>
<polygon fill="#ee4e4e" stroke="#ee4e4e" stroke-width="0.6" points="335.8,388.6 358.8,388.6 380.6,382.0 402.5,391.9 431.0,391.9 434.3,402.8 431.0,409.4 376.3,410.5 375.2,396.3 336.9,396.3"/>
<polygon fill="#8ac0fb" stroke="#8ac0fb" stroke-width="0.6" points="349.0,464.0 367.5,455.3 391.6,446.6 413.5,451.0 380.6,457.5 350.0,466.3"/>
<path d="M134.4,484.0 L174.0,486.4 L199.9,486.4 M134.4,484.0 L134.4,492.9 L154.6,492.9 L154.6,500.2 L184.5,500.2 L184.5,492.1 M154.6,459.0 L154.6,472.7 L196.6,472.7 M174.0,486.4 L220.9,513.1 L237.0,513.1 L251.5,530.9 L254.8,541.0 M237.0,513.1 L240.2,505.8 L283.9,486.4 L309.7,475.1 L348.5,466.2 M283.9,486.4 L295.2,486.4 L322.6,500.2 L335.6,500.2 L335.6,493.4 L354.9,493.4 L354.9,506.6 L377.6,506.6 L379.2,461.4 M322.6,500.2 L328.3,513.1 L327.5,527.6 L316.2,541.0 M275.0,513.9 L275.0,541.0 M275.0,513.9 L314.6,513.9 L314.6,500.2 M201.5,475.9 L220.9,475.1 L222.5,485.6 L258.0,485.6 L258.0,496.9 L212.8,496.9 L212.8,505.0 L237.0,505.0 M251.5,485.6 L270.9,454.9 L304.9,454.9 M235.4,451.7 L304.9,451.7 M163.5,505.0 L164.3,510.7 L180.5,513.1 L198.2,518.7 L206.3,514.7 L214.4,517.9 L212.8,529.2 L214.4,541.0 M309.7,475.1 L309.7,464.6 L319.4,442.0 L329.1,432.3 L335.6,411.3 M379.2,461.4 L379.2,501.8 M380.0,459.2 L401.7,459.2 L401.7,472.5 L395.8,473.3 L395.8,482.5 L405.0,482.5 L405.0,490.8 L419.2,493.3 L435.8,493.3 L435.8,500.0 L456.7,500.0 L461.7,503.3 L461.7,507.5 L486.7,507.5 L486.7,500.0 L496.7,500.0 L496.7,505.0 L453.3,541.0 M380.0,507.5 L395.0,507.5 L395.0,514.2 L415.8,514.2 L415.8,528.3 L470.8,528.3 M535.0,427.5 L540.0,440.0 L555.0,450.0 L565.0,452.5 L576.7,451.7 L586.7,460.0 L615.0,465.0 L628.3,465.8 M616.7,473.3 L615.0,543.0 M616.7,473.3 L635.0,473.3 L635.0,475.8 L655.0,479.2 L676.0,480.0 M576.7,438.3 L616.7,445.0 L616.7,465.0 M587.5,417.5 L587.5,445.0 M587.5,417.5 L591.7,417.5 L591.7,405.0 L596.7,403.3 L646.7,403.3 L646.7,406.7 L655.0,406.7 L660.0,395.0 L650.0,386.7 M636.7,424.2 L676.7,424.2 M587.5,438.3 L636.7,438.3 L636.7,424.2 M676.7,434.2 L685.0,412.5 L675.0,401.7 L651.7,386.7 M536.7,406.7 L561.7,406.7 L556.7,412.0 L556.7,430.0 L536.7,430.0 M553.3,415.0 L566.7,409.2 L586.7,405.8 M680.0,434.2 L724.0,452.8 L727.4,456.2 M698.6,440.9 L697.8,472.2 M691.8,474.8 L707.1,468.0 L727.4,468.9 L727.4,456.2 M740.9,488.3 L779.9,500.2 M663.0,436.0 L690.0,440.0 L697.0,455.0 L693.0,473.0 M558.3,390.0 L558.3,396.7 M560.0,352.0 L578.0,352.0 L578.0,369.0 M600.0,360.0 L615.0,372.0 L640.0,372.0 L640.0,360.0 M596.0,388.4 L605.0,380.0 L620.0,378.0 L632.0,386.0 M700.0,388.0 L690.0,398.0 L700.0,410.0 L715.0,412.0 M94.0,472.5 L94.0,541.0" fill="none" stroke="#6e1215" stroke-width="0.8" opacity="0.8"/>
</g>
<defs><filter id="gl" x="-1" y="-1" width="3" height="3"><feGaussianBlur stdDeviation="4"/></filter></defs>
<rect x="1047.6" y="44.6" width="20.8" height="20.8" rx="2.5" transform="rotate(45 1058 55)" fill="none" stroke="#0e4854" stroke-width="4" opacity="0.45" filter="url(#gl)"/>
<rect x="1047.6" y="44.6" width="20.8" height="20.8" rx="2.5" transform="rotate(45 1058 55)" fill="#0a0809" stroke="#0e4b57" stroke-width="2"/>
<rect x="1044" y="80" width="828" height="1" fill="#113d46"/>
<rect x="1044" y="307" width="828" height="1" fill="#1c1a1b"/>
<rect x="1044" y="338" width="828" height="1" fill="#1c1a1b"/>
<rect x="1044" y="387" width="828" height="1" fill="#1c1a1b"/>
<rect x="1044" y="430" width="828" height="1" fill="#1c1a1b"/>
<rect x="1044" y="471" width="828" height="1" fill="#1c1a1b"/>
<rect x="1044" y="512" width="828" height="1" fill="#1c1a1b"/>
<rect x="1044" y="555" width="828" height="1" fill="#1c1a1b"/>
<rect x="1044" y="564" width="828" height="1" fill="#34302e"/>
<rect x="1044" y="632" width="265" height="1" fill="#1c1a1b"/>
<rect x="1325" y="632" width="266" height="1" fill="#1c1a1b"/>
<rect x="1607" y="632" width="265" height="1" fill="#1c1a1b"/>
<rect x="1044" y="689" width="265" height="1" fill="#1c1a1b"/>
<rect x="1607" y="689" width="265" height="1" fill="#1c1a1b"/>
<rect x="1044" y="740" width="265" height="1" fill="#1c1a1b"/>
<rect x="1607" y="740" width="265" height="1" fill="#1c1a1b"/>
<rect x="1044" y="771" width="265" height="1" fill="#1c1a1b"/>
<rect x="1607" y="771" width="265" height="1" fill="#1c1a1b"/>
<rect x="1044" y="804" width="265" height="1" fill="#1c1a1b"/>
<rect x="1607" y="804" width="265" height="1" fill="#1c1a1b"/>
<rect x="1044" y="835" width="265" height="1" fill="#1c1a1b"/>
<rect x="1607" y="835" width="265" height="1" fill="#1c1a1b"/>
<rect x="1325" y="670" width="266" height="1" fill="#1c1a1b"/>
<rect x="1325" y="702" width="266" height="1" fill="#1c1a1b"/>
<rect x="1325" y="734" width="266" height="1" fill="#1c1a1b"/>
<rect x="1325" y="766" width="266" height="1" fill="#1c1a1b"/>
<rect x="1325" y="797" width="266" height="1" fill="#1c1a1b"/>
<rect x="1239" y="661" width="70" height="6" rx="3" fill="#1b1a1b"/><rect x="1239" y="661" width="49" height="6" rx="3" fill="#7b899e"/>
<rect x="1239" y="712" width="70" height="6" rx="3" fill="#1b1a1b"/><rect x="1239" y="712" width="8" height="6" rx="3" fill="#df920e"/>
<rect x="1239" y="753" width="70" height="6" rx="3" fill="#1b1a1b"/><rect x="1239" y="753" width="3" height="6" rx="1.5" fill="#a78bfa"/>
<rect x="1239" y="785" width="70" height="6" rx="3" fill="#1b1a1b"/><rect x="1239" y="785" width="5" height="6" rx="2.5" fill="#34d399"/>
<rect x="1239" y="816" width="70" height="6" rx="3" fill="#1b1a1b"/><rect x="1239" y="816" width="1.2" height="6" rx="0.6" fill="#df920e"/>
<rect x="1520" y="651" width="70" height="6" rx="3" fill="#1b1a1b"/><rect x="1520" y="651" width="11" height="6" rx="3" fill="#7b899e"/>
<rect x="1520" y="683" width="70" height="6" rx="3" fill="#1b1a1b"/><rect x="1520" y="683" width="9" height="6" rx="3" fill="#7b899e"/>
<rect x="1520" y="715" width="70" height="6" rx="3" fill="#1b1a1b"/><rect x="1520" y="715" width="8" height="6" rx="3" fill="#7b899e"/>
<rect x="1520" y="747" width="70" height="6" rx="3" fill="#1b1a1b"/><rect x="1520" y="747" width="3.5" height="6" rx="1.75" fill="#df920e"/>
<rect x="1520" y="779" width="70" height="6" rx="3" fill="#1b1a1b"/><rect x="1520" y="779" width="2" height="6" rx="1.0" fill="#7b899e"/>
<rect x="1802" y="661" width="70" height="6" rx="3" fill="#1b1a1b"/><rect x="1802" y="661" width="44" height="6" rx="3" fill="#697181"/>
<rect x="1802" y="712" width="70" height="6" rx="3" fill="#1b1a1b"/><rect x="1802" y="712" width="15" height="6" rx="3" fill="#e06666"/>
<rect x="1802" y="753" width="70" height="6" rx="3" fill="#1b1a1b"/><rect x="1802" y="753" width="5.5" height="6" rx="2.75" fill="#e2a812"/>
<rect x="1802" y="785" width="70" height="6" rx="3" fill="#1b1a1b"/><rect x="1802" y="785" width="3" height="6" rx="1.5" fill="#8a94a4"/>
<rect x="1802" y="816" width="70" height="6" rx="3" fill="#1b1a1b"/><rect x="1802" y="816" width="2" height="6" rx="1.0" fill="#2dd4bf"/>
<path d="M1161,582 H1169.5 M1165.8,578.2 L1169.6,582 L1165.8,585.8" fill="none" stroke="#b8aca4" stroke-width="1.6" stroke-linecap="round" stroke-linejoin="round"/>
<rect x="1044" y="875" width="828" height="1" fill="#1c1a1b"/>
<rect x="1044" y="894" width="1" height="49" fill="#262323"/>
<rect x="1257" y="894" width="1" height="49" fill="#262323"/>
<rect x="1470" y="894" width="1" height="49" fill="#262323"/>
<rect x="1683" y="894" width="1" height="49" fill="#262323"/>
<rect x="1044" y="995" width="463" height="1" fill="#14424b"/>
<text x="1080.25" y="60.50" font-weight="700" font-size="31.88" fill="#f4f1ed" textLength="183.00" lengthAdjust="spacingAndGlyphs">Akashic Edge</text>
<text x="1729.20" y="56.90" font-weight="700" font-size="17.39" fill="#a0948c" textLength="141.80" lengthAdjust="spacingAndGlyphs">akashicedge.com</text>
<text x="1044.40" y="107.50" font-weight="700" font-size="18.12" fill="#a0948c" textLength="120.40" lengthAdjust="spacingAndGlyphs">County profile</text>
<text x="1045.60" y="167.70" font-weight="700" font-size="57.10" fill="#f4f1ed" textLength="412.20" lengthAdjust="spacingAndGlyphs">Thurston County</text>
<text x="1045.60" y="207.80" font-weight="700" font-size="20.00" fill="#b8aca4" textLength="350.00" lengthAdjust="spacingAndGlyphs">Washington · Latest presidential: 2024</text>
<text x="1044.00" y="258.20" font-weight="700" font-size="38.12" fill="#60a5fa" textLength="137.80" lengthAdjust="spacingAndGlyphs">D +20.3</text>
<text x="1195.80" y="263.50" font-weight="700" font-size="15.94" fill="#b8aca4" textLength="92.00" lengthAdjust="spacingAndGlyphs">Harris · 2024</text>
<text x="1044.00" y="293.75" font-weight="700" font-size="17.39" fill="#f4f1ed" textLength="246.20" lengthAdjust="spacingAndGlyphs">Presidential Vote · 2008–2024</text>
<text x="1045.00" y="327.00" font-weight="700" font-size="13.77" fill="#968c85" textLength="28.00" lengthAdjust="spacingAndGlyphs">Year</text>
<text x="1114.50" y="327.00" font-weight="700" font-size="13.77" fill="#968c85" textLength="42.00" lengthAdjust="spacingAndGlyphs">Dem %</text>
<text x="1214.50" y="327.00" font-weight="700" font-size="13.77" fill="#968c85" textLength="36.00" lengthAdjust="spacingAndGlyphs">Rep %</text>
<text x="1313.50" y="327.00" font-weight="700" font-size="13.77" fill="#968c85" textLength="46.00" lengthAdjust="spacingAndGlyphs">Margin</text>
<text x="1434.50" y="327.00" font-weight="700" font-size="13.77" fill="#968c85" textLength="45.00" lengthAdjust="spacingAndGlyphs">Winner</text>
<text x="1044.50" y="368.75" font-weight="700" font-size="21.74" fill="#f4f1ed" textLength="51.00" lengthAdjust="spacingAndGlyphs">2024</text>
<text x="1114.50" y="368.75" font-weight="700" font-size="21.74" fill="#60a5fa" textLength="57.00" lengthAdjust="spacingAndGlyphs">58.1 %</text>
<text x="1214.50" y="368.75" font-weight="700" font-size="21.74" fill="#f87171" textLength="61.00" lengthAdjust="spacingAndGlyphs">37.9 %</text>
<text x="1313.50" y="368.75" font-weight="700" font-size="21.74" fill="#60a5fa" textLength="78.00" lengthAdjust="spacingAndGlyphs">D +20.3</text>
<text x="1433.50" y="368.75" font-weight="700" font-size="21.74" fill="#f4f1ed" textLength="62.00" lengthAdjust="spacingAndGlyphs">Harris</text>
<text x="1044.50" y="414.50" font-weight="700" font-size="19.20" fill="#f4f1ed" textLength="43.00" lengthAdjust="spacingAndGlyphs">2020</text>
<text x="1114.50" y="414.50" font-weight="700" font-size="19.20" fill="#60a5fa" textLength="49.00" lengthAdjust="spacingAndGlyphs">57.5 %</text>
<text x="1214.50" y="414.50" font-weight="700" font-size="19.20" fill="#f87171" textLength="50.00" lengthAdjust="spacingAndGlyphs">38.8 %</text>
<text x="1313.50" y="414.50" font-weight="700" font-size="19.20" fill="#60a5fa" textLength="59.00" lengthAdjust="spacingAndGlyphs">D +18.6</text>
<text x="1433.50" y="414.50" font-weight="700" font-size="19.20" fill="#f4f1ed" textLength="47.00" lengthAdjust="spacingAndGlyphs">Biden</text>
<text x="1044.50" y="455.50" font-weight="700" font-size="18.12" fill="#f4f1ed" textLength="38.00" lengthAdjust="spacingAndGlyphs">2016</text>
<text x="1114.50" y="455.50" font-weight="700" font-size="18.12" fill="#60a5fa" textLength="47.00" lengthAdjust="spacingAndGlyphs">51.3 %</text>
<text x="1214.50" y="455.50" font-weight="700" font-size="18.12" fill="#f87171" textLength="50.00" lengthAdjust="spacingAndGlyphs">36.2 %</text>
<text x="1313.50" y="455.50" font-weight="700" font-size="18.12" fill="#60a5fa" textLength="60.00" lengthAdjust="spacingAndGlyphs">D +15.0</text>
<text x="1434.50" y="455.50" font-weight="700" font-size="18.12" fill="#f4f1ed" textLength="58.00" lengthAdjust="spacingAndGlyphs">Clinton</text>
<text x="1044.50" y="497.50" font-weight="700" font-size="18.12" fill="#f4f1ed" textLength="38.00" lengthAdjust="spacingAndGlyphs">2012</text>
<text x="1114.50" y="497.50" font-weight="700" font-size="18.12" fill="#60a5fa" textLength="52.00" lengthAdjust="spacingAndGlyphs">58.0 %</text>
<text x="1214.50" y="497.50" font-weight="700" font-size="18.12" fill="#f87171" textLength="50.00" lengthAdjust="spacingAndGlyphs">38.6 %</text>
<text x="1313.50" y="497.50" font-weight="700" font-size="18.12" fill="#60a5fa" textLength="58.00" lengthAdjust="spacingAndGlyphs">D +19.4</text>
<text x="1434.50" y="497.50" font-weight="700" font-size="18.12" fill="#f4f1ed" textLength="60.00" lengthAdjust="spacingAndGlyphs">Obama</text>
<text x="1044.50" y="539.50" font-weight="700" font-size="18.12" fill="#f4f1ed" textLength="43.00" lengthAdjust="spacingAndGlyphs">2008</text>
<text x="1114.50" y="539.50" font-weight="700" font-size="18.12" fill="#60a5fa" textLength="51.00" lengthAdjust="spacingAndGlyphs">59.6 %</text>
<text x="1214.50" y="539.50" font-weight="700" font-size="18.12" fill="#f87171" textLength="52.00" lengthAdjust="spacingAndGlyphs">38.0 %</text>
<text x="1313.50" y="539.50" font-weight="700" font-size="18.12" fill="#60a5fa" textLength="59.00" lengthAdjust="spacingAndGlyphs">D +21.6</text>
<text x="1434.50" y="539.50" font-weight="700" font-size="18.12" fill="#f4f1ed" textLength="60.00" lengthAdjust="spacingAndGlyphs">Obama</text>
<text x="1043.40" y="587.50" font-weight="700" font-size="15.94" fill="#b8aca4" textLength="114.00" lengthAdjust="spacingAndGlyphs">Net swing 2008</text>
<text x="1173.75" y="587.50" font-weight="700" font-size="15.94" fill="#b8aca4" textLength="37.00" lengthAdjust="spacingAndGlyphs">2024</text>
<text x="1803.90" y="587.60" font-weight="700" font-size="15.94" fill="#f87171" textLength="67.00" lengthAdjust="spacingAndGlyphs">R +1.3 pts</text>
<text x="1043.40" y="619.40" font-weight="700" font-size="18.12" fill="#f4f1ed" textLength="131.80" lengthAdjust="spacingAndGlyphs">Race &amp; Ethnicity</text>
<text x="1325.60" y="619.90" font-weight="700" font-size="18.12" fill="#f4f1ed" textLength="121.00" lengthAdjust="spacingAndGlyphs">Top Ancestries</text>
<text x="1606.30" y="619.60" font-weight="700" font-size="18.12" fill="#f4f1ed" textLength="179.80" lengthAdjust="spacingAndGlyphs">Religious Composition</text>
<text x="1044.40" y="658.50" font-weight="700" font-size="15.22" fill="#f4f1ed" textLength="79.60" lengthAdjust="spacingAndGlyphs">White, non-</text>
<text x="1043.40" y="677.25" font-weight="700" font-size="15.22" fill="#f4f1ed" textLength="59.60" lengthAdjust="spacingAndGlyphs">Hispanic</text>
<text x="1043.40" y="710.00" font-weight="700" font-size="15.22" fill="#f4f1ed" textLength="76.60" lengthAdjust="spacingAndGlyphs">Hispanic or</text>
<text x="1043.40" y="728.80" font-weight="700" font-size="15.22" fill="#f4f1ed" textLength="44.00" lengthAdjust="spacingAndGlyphs">Latino</text>
<text x="1043.40" y="760.90" font-weight="700" font-size="15.22" fill="#f4f1ed" textLength="37.20" lengthAdjust="spacingAndGlyphs">Black</text>
<text x="1044.40" y="793.00" font-weight="700" font-size="15.22" fill="#f4f1ed" textLength="38.60" lengthAdjust="spacingAndGlyphs">Asian</text>
<text x="1044.40" y="823.50" font-weight="700" font-size="15.22" fill="#f4f1ed" textLength="35.80" lengthAdjust="spacingAndGlyphs">AIAN</text>
<text x="1165.00" y="667.80" font-weight="700" font-size="15.22" fill="#b8aca4" textLength="41.80" lengthAdjust="spacingAndGlyphs">69.5 %</text>
<text x="1165.00" y="718.60" font-weight="700" font-size="15.22" fill="#b8aca4" textLength="40.80" lengthAdjust="spacingAndGlyphs">10.6 %</text>
<text x="1165.00" y="760.90" font-weight="700" font-size="15.22" fill="#b8aca4" textLength="32.60" lengthAdjust="spacingAndGlyphs">3.3 %</text>
<text x="1165.00" y="793.00" font-weight="700" font-size="15.22" fill="#b8aca4" textLength="30.00" lengthAdjust="spacingAndGlyphs">6.1 %</text>
<text x="1165.00" y="823.50" font-weight="700" font-size="15.22" fill="#b8aca4" textLength="27.60" lengthAdjust="spacingAndGlyphs">1.1 %</text>
<text x="1325.60" y="658.80" font-weight="700" font-size="15.22" fill="#f4f1ed" textLength="55.60" lengthAdjust="spacingAndGlyphs">German</text>
<text x="1446.00" y="658.80" font-weight="700" font-size="15.22" fill="#b8aca4" textLength="39.60" lengthAdjust="spacingAndGlyphs">16.4 %</text>
<text x="1324.60" y="690.70" font-weight="700" font-size="15.22" fill="#f4f1ed" textLength="49.40" lengthAdjust="spacingAndGlyphs">English</text>
<text x="1446.00" y="690.70" font-weight="700" font-size="15.22" fill="#b8aca4" textLength="40.60" lengthAdjust="spacingAndGlyphs">13.0 %</text>
<text x="1324.60" y="722.70" font-weight="700" font-size="15.22" fill="#f4f1ed" textLength="29.80" lengthAdjust="spacingAndGlyphs">Irish</text>
<text x="1446.00" y="722.70" font-weight="700" font-size="15.22" fill="#b8aca4" textLength="36.00" lengthAdjust="spacingAndGlyphs">11.7 %</text>
<text x="1324.60" y="754.80" font-weight="700" font-size="15.22" fill="#f4f1ed" textLength="57.00" lengthAdjust="spacingAndGlyphs">Mexican</text>
<text x="1446.00" y="754.80" font-weight="700" font-size="15.22" fill="#b8aca4" textLength="33.60" lengthAdjust="spacingAndGlyphs">6.2 %</text>
<text x="1325.60" y="786.90" font-weight="700" font-size="15.22" fill="#f4f1ed" textLength="65.40" lengthAdjust="spacingAndGlyphs">American</text>
<text x="1446.00" y="786.90" font-weight="700" font-size="15.22" fill="#b8aca4" textLength="33.60" lengthAdjust="spacingAndGlyphs">3.9 %</text>
<text x="1606.30" y="659.00" font-weight="700" font-size="15.22" fill="#f4f1ed" textLength="105.80" lengthAdjust="spacingAndGlyphs">Non-adherent /</text>
<text x="1607.30" y="677.50" font-weight="700" font-size="15.22" fill="#f4f1ed" textLength="39.40" lengthAdjust="spacingAndGlyphs">Other</text>
<text x="1606.30" y="709.30" font-weight="700" font-size="15.22" fill="#f4f1ed" textLength="78.40" lengthAdjust="spacingAndGlyphs">Evangelical</text>
<text x="1606.30" y="727.90" font-weight="700" font-size="15.22" fill="#f4f1ed" textLength="73.60" lengthAdjust="spacingAndGlyphs">Protestant</text>
<text x="1607.30" y="760.90" font-weight="700" font-size="15.22" fill="#f4f1ed" textLength="56.00" lengthAdjust="spacingAndGlyphs">Catholic</text>
<text x="1607.30" y="793.00" font-weight="700" font-size="15.22" fill="#f4f1ed" textLength="102.60" lengthAdjust="spacingAndGlyphs">Other tradition</text>
<text x="1606.30" y="823.50" font-weight="700" font-size="15.22" fill="#f4f1ed" textLength="28.00" lengthAdjust="spacingAndGlyphs">LDS</text>
<text x="1728.20" y="667.60" font-weight="700" font-size="15.22" fill="#b8aca4" textLength="41.40" lengthAdjust="spacingAndGlyphs">63.5 %</text>
<text x="1728.20" y="718.00" font-weight="700" font-size="15.22" fill="#b8aca4" textLength="38.60" lengthAdjust="spacingAndGlyphs">21.8 %</text>
<text x="1728.20" y="760.90" font-weight="700" font-size="15.22" fill="#b8aca4" textLength="33.60" lengthAdjust="spacingAndGlyphs">8.2 %</text>
<text x="1728.20" y="793.00" font-weight="700" font-size="15.22" fill="#b8aca4" textLength="34.80" lengthAdjust="spacingAndGlyphs">4.4 %</text>
<text x="1728.20" y="823.50" font-weight="700" font-size="15.22" fill="#b8aca4" textLength="33.60" lengthAdjust="spacingAndGlyphs">2.5 %</text>
<text x="1043.60" y="862.75" font-weight="700" font-size="17.97" fill="#f4f1ed" textLength="187.60" lengthAdjust="spacingAndGlyphs">Economics &amp; Language</text>
<text x="1058.60" y="907.20" font-weight="700" font-size="14.49" fill="#a0948c" textLength="118.40" lengthAdjust="spacingAndGlyphs">Median HH income</text>
<text x="1271.40" y="907.20" font-weight="700" font-size="14.49" fill="#a0948c" textLength="80.40" lengthAdjust="spacingAndGlyphs">Poverty rate</text>
<text x="1484.80" y="907.20" font-weight="700" font-size="14.49" fill="#a0948c" textLength="99.60" lengthAdjust="spacingAndGlyphs">English at home</text>
<text x="1698.50" y="907.20" font-weight="700" font-size="14.49" fill="#a0948c" textLength="99.40" lengthAdjust="spacingAndGlyphs">Other language</text>
<text x="1060.00" y="935.30" font-weight="700" font-size="20.87" fill="#f4f1ed" textLength="79.00" lengthAdjust="spacingAndGlyphs">$96,563</text>
<text x="1272.40" y="935.30" font-weight="700" font-size="20.87" fill="#f4f1ed" textLength="50.00" lengthAdjust="spacingAndGlyphs">9.6 %</text>
<text x="1485.80" y="935.30" font-weight="700" font-size="20.87" fill="#f4f1ed" textLength="60.40" lengthAdjust="spacingAndGlyphs">88.2 %</text>
<text x="1697.50" y="935.30" font-weight="700" font-size="20.87" fill="#f4f1ed" textLength="53.00" lengthAdjust="spacingAndGlyphs">11.8 %</text>
<text x="1044.30" y="1018.10" font-weight="700" font-size="12.90" fill="#968c85" textLength="462.00" lengthAdjust="spacingAndGlyphs">Sources: Akashic Edge elections database · PL 94-171 (2020) · ACS 5-yr B04006</text>
<text x="1044.30" y="1038.80" font-weight="700" font-size="13.48" fill="#b3a9a1" textLength="212.20" lengthAdjust="spacingAndGlyphs">akashicedge.com/counties/53067</text>
<text x="344.20" y="662.70" font-weight="700" font-size="18.12" fill="#b3a9a1" textLength="366.40" lengthAdjust="spacingAndGlyphs">2024 · Harris D +20.3 · Dem 58.1 % · Rep 37.9 %</text>
</svg></body></html>
